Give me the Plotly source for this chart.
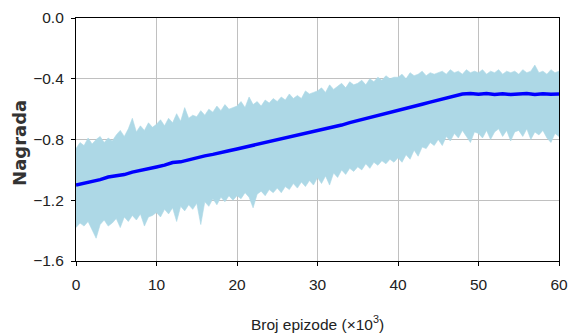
import plotly.graph_objects as go

# x positions of the band samples (thousands of episodes), step 0.5
band_x = [i * 0.5 for i in range(121)]

band_upper = [
    -0.86, -0.82, -0.84, -0.79, -0.83, -0.80, -0.78, -0.82, -0.79, -0.81,
    -0.77, -0.74, -0.78, -0.73, -0.66, -0.75, -0.71, -0.74, -0.69, -0.72,
    -0.70, -0.67, -0.71, -0.66, -0.69, -0.63, -0.68, -0.59, -0.66, -0.64,
    -0.65, -0.61, -0.64, -0.60, -0.62, -0.58, -0.61, -0.57, -0.60, -0.59,
    -0.58, -0.55, -0.59, -0.52, -0.57, -0.55, -0.58, -0.54, -0.56, -0.53,
    -0.55, -0.52, -0.54, -0.50, -0.53, -0.51, -0.53, -0.48, -0.50, -0.49,
    -0.48, -0.46, -0.49, -0.44, -0.47, -0.45, -0.43, -0.46, -0.42, -0.44,
    -0.43, -0.41, -0.44, -0.40, -0.42, -0.39, -0.41, -0.38, -0.40, -0.39,
    -0.39, -0.37, -0.40, -0.36, -0.38, -0.37, -0.35, -0.38, -0.36, -0.37,
    -0.36, -0.35, -0.37, -0.34, -0.36, -0.35, -0.37, -0.34, -0.36, -0.35,
    -0.36, -0.34, -0.37, -0.35, -0.36, -0.34, -0.37, -0.35, -0.36, -0.35,
    -0.37, -0.34, -0.36, -0.35, -0.31, -0.36, -0.35, -0.37, -0.34, -0.36,
    -0.35,
]

band_lower = [
    -1.38, -1.35, -1.37, -1.34, -1.40, -1.45, -1.36, -1.33, -1.37, -1.35,
    -1.32, -1.38, -1.31, -1.34, -1.30, -1.33, -1.29, -1.37, -1.31, -1.30,
    -1.28, -1.31, -1.26, -1.29, -1.25, -1.34, -1.24, -1.27, -1.23, -1.26,
    -1.22, -1.36, -1.21, -1.24, -1.19, -1.23, -1.18, -1.21, -1.17, -1.20,
    -1.17, -1.19, -1.15, -1.18, -1.25, -1.16, -1.14, -1.17, -1.13, -1.15,
    -1.12, -1.15, -1.11, -1.13, -1.09, -1.12, -1.08, -1.11, -1.07, -1.10,
    -1.05, -1.09, -1.04, -1.10, -1.02, -1.05, -1.00, -1.03, -0.99, -1.01,
    -0.98, -1.00, -0.96, -0.99, -0.95, -0.97, -0.94, -0.96, -0.93, -0.95,
    -0.92, -0.95, -0.90, -0.93, -0.87, -0.91, -0.85, -0.86, -0.82, -0.84,
    -0.80, -0.84, -0.78, -0.81, -0.76, -0.79, -0.74, -0.78, -0.82, -0.75,
    -0.76, -0.79, -0.74, -0.80, -0.75, -0.73, -0.78, -0.74, -0.81, -0.75,
    -0.74, -0.78, -0.73, -0.80, -0.75, -0.77, -0.74, -0.79, -0.82, -0.76,
    -0.78,
]

# mean reward, step 1
mean_x = list(range(61))
mean_reward = [
    -1.100, -1.088, -1.078, -1.064, -1.047, -1.040, -1.031, -1.015, -1.005, -0.991,
    -0.981, -0.969, -0.952, -0.947, -0.933, -0.921, -0.908, -0.898, -0.888, -0.874,
    -0.862, -0.850, -0.836, -0.828, -0.814, -0.802, -0.789, -0.781, -0.767, -0.754,
    -0.743, -0.730, -0.716, -0.705, -0.689, -0.676, -0.664, -0.649, -0.635, -0.622,
    -0.608, -0.597, -0.581, -0.568, -0.554, -0.541, -0.527, -0.514, -0.500, -0.497,
    -0.502, -0.498, -0.503, -0.499, -0.504, -0.500, -0.497, -0.503, -0.499, -0.502,
    -0.500,
]

x_ticks = [0, 10, 20, 30, 40, 50, 60]
y_ticks = [0.0, -0.4, -0.8, -1.2, -1.6]
y_tick_text = ["0.0", "\u22120.4", "\u22120.8", "\u22121.2", "\u22121.6"]

fig = go.Figure()
fig.add_trace(go.Scatter(
    x=band_x + band_x[::-1],
    y=band_upper + band_lower[::-1],
    fill="toself",
    fillcolor="#add8e6",
    line=dict(color="#add8e6", width=0.6),
    mode="lines",
    hoverinfo="skip",
    showlegend=False,
))
fig.add_trace(go.Scatter(
    x=mean_x, y=mean_reward,
    mode="lines",
    line=dict(color="#0000ff", width=3.5),
    showlegend=False,
))

sans = "Liberation Sans, Arial, sans-serif"
tick_font = dict(family=sans, size=15.5, color="#222222")

fig.update_layout(
    width=573, height=334,
    margin=dict(l=75.5, r=14, t=18, b=73),
    plot_bgcolor="white", paper_bgcolor="white",
    xaxis=dict(
        range=[0, 60], tickvals=x_ticks, ticks="outside", ticklen=4,
        tickcolor="black", showline=True, linecolor="black", linewidth=1.2,
        mirror=True, showgrid=True, gridcolor="#c0c0c0", gridwidth=1,
        zeroline=False, tickfont=tick_font, ticklabelstandoff=5,
        automargin=False,
    ),
    yaxis=dict(
        range=[-1.6, 0.0], tickvals=y_ticks, ticktext=y_tick_text,
        ticks="outside", ticklen=4, tickcolor="black", showline=True,
        linecolor="black", linewidth=1.2, mirror=True, showgrid=True,
        gridcolor="#c0c0c0", gridwidth=1, zeroline=False, tickfont=tick_font,
        ticklabelstandoff=4, automargin=False,
    ),
    annotations=[
        dict(text="Broj epizode (\u00d710<sup>3</sup>)", xref="paper", yref="paper",
             x=0.5, y=-0.255, xanchor="center", yanchor="middle", showarrow=False,
             font=dict(family=sans, size=15.5, color="#222222")),
        dict(text="<b>Nagrada</b>", xref="paper", yref="paper",
             x=-0.117, y=0.488, xanchor="center", yanchor="middle", textangle=-90,
             showarrow=False,
             font=dict(family="DejaVu Sans", size=18, color="#333333")),
    ],
)

fig.write_html(
    "out.html",
    config={"displayModeBar": False},
    post_script="document.body.style.margin='0';document.body.style.overflow='hidden';",
)
